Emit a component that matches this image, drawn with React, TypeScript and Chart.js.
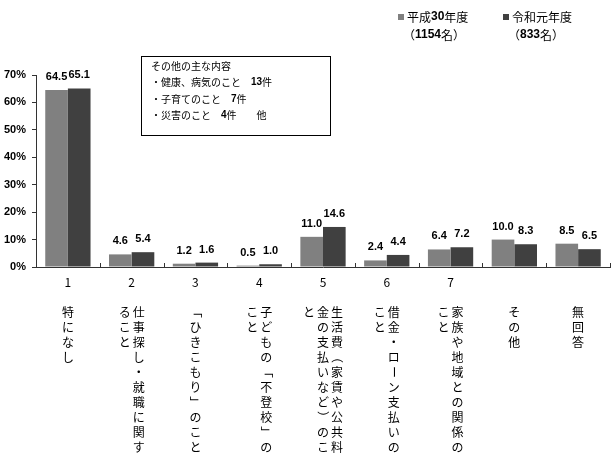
import { useEffect, useRef } from "react";
import { Chart, registerables } from "chart.js";

// category numbers shown under the axis, and the vertical label columns (right to left)
const categoryNumbers = ["1", "2", "3", "4", "5", "6", "7", "", ""];
const categoryColumns: string[][] = [
  ["特になし"],
  ["仕事探し・就職に関す", "ること"],
  ["「ひきこもり」のこと"],
  ["子どもの「不登校」の", "こと"],
  ["生活費（家賃や公共料", "金の支払いなど）のこ", "と"],
  ["借金・ローン支払いの", "こと"],
  ["家族や地域との関係の", "こと"],
  ["その他"],
  ["無回答"],
];

const seriesNames = ["平成30年度", "令和元年度"];
const seriesCounts = ["（1154名）", "（833名）"];
const seriesColors = ["#808080", "#404040"];
const heisei30 = [64.5, 4.6, 1.2, 0.5, 11.0, 2.4, 6.4, 10.0, 8.5];
const reiwa1 = [65.1, 5.4, 1.6, 1.0, 14.6, 4.4, 7.2, 8.3, 6.5];

const yTicks = [0, 10, 20, 30, 40, 50, 60, 70];

const noteLines = [
  "その他の主な内容",
  "・健康、病気のこと　13件",
  "・子育てのこと　7件",
  "・災害のこと　4件　　他",
];

const JP = "'Noto Sans CJK JP', 'Noto Sans', sans-serif";
const ROTATED = "「」（）ー";

// draw a string where runs of digits are bold
const drawMixed = (
  ctx: CanvasRenderingContext2D,
  text: string,
  x: number,
  y: number,
  size: number
) => {
  const parts = text.split(/(\d+)/).filter((p) => p.length);
  let cx = x;
  parts.forEach((p) => {
    const bold = /^\d+$/.test(p);
    ctx.font = bold
      ? `bold ${size}px 'Liberation Sans', Arial, sans-serif`
      : `${size}px ${JP}`;
    ctx.fillText(p, cx, y);
    cx += ctx.measureText(p).width;
  });
};

const decorPlugin = {
  id: "decor",
  afterDraw(chart: any) {
    const ctx: CanvasRenderingContext2D = chart.ctx;
    const xs = chart.scales.x;
    const area = chart.chartArea;
    ctx.save();
    ctx.fillStyle = "#000";

    // inside tick marks between categories
    const half = (xs.getPixelForValue(1) - xs.getPixelForValue(0)) / 2;
    ctx.strokeStyle = "#333";
    ctx.lineWidth = 1;
    for (let i = 0; i < categoryNumbers.length; i++) {
      const bx = Math.round(xs.getPixelForValue(i) + half) + 0.5;
      ctx.beginPath();
      ctx.moveTo(bx, area.bottom);
      ctx.lineTo(bx, area.bottom - 4);
      ctx.stroke();
    }

    // category numbers
    ctx.textAlign = "center";
    ctx.textBaseline = "middle";
    ctx.font = `12px ${JP}`;
    categoryNumbers.forEach((n, i) => {
      ctx.fillText(n, xs.getPixelForValue(i), area.bottom + 15);
    });

    // vertical labels
    categoryColumns.forEach((cols, i) => {
      const cx = xs.getPixelForValue(i);
      cols.forEach((col, c) => {
        const x = cx + ((cols.length - 1) / 2) * 14 - c * 14;
        Array.from(col).forEach((ch, r) => {
          const y = area.bottom + 45 + r * 15;
          if (ROTATED.includes(ch)) {
            ctx.save();
            ctx.translate(x, y);
            ctx.rotate(Math.PI / 2);
            ctx.fillText(ch, 0, 0);
            ctx.restore();
          } else {
            ctx.fillText(ch, x, y);
          }
        });
      });
    });

    // legend
    ctx.textAlign = "left";
    const legendX = [398, 503];
    seriesNames.forEach((name, i) => {
      ctx.fillStyle = seriesColors[i];
      ctx.fillRect(legendX[i], 14, 6, 6);
      ctx.fillStyle = "#000";
      drawMixed(ctx, name, legendX[i] + 9, 17, 12);
      drawMixed(ctx, seriesCounts[i], legendX[i] + 5, 35, 12);
    });

    // note box
    ctx.strokeStyle = "#000";
    ctx.strokeRect(141.5, 56.5, 189, 79);
    noteLines.forEach((line, i) => {
      drawMixed(ctx, line, 151, 66 + i * 16.5, 10);
    });

    ctx.restore();
  },
  afterDatasetsDraw(chart: any) {
    const ctx: CanvasRenderingContext2D = chart.ctx;
    ctx.save();
    ctx.fillStyle = "#000";
    ctx.textAlign = "center";
    ctx.textBaseline = "middle";
    ctx.font = "bold 11px 'Liberation Sans', Arial, sans-serif";
    chart.data.datasets.forEach((ds: any, di: number) => {
      chart.getDatasetMeta(di).data.forEach((bar: any, i: number) => {
        ctx.fillText(ds.data[i].toFixed(1), bar.x, bar.y - 13);
      });
    });
    ctx.restore();
  },
};

const BarChart = () => {
  const canvasRef = useRef<HTMLCanvasElement>(null);

  useEffect(() => {
    Chart.register(...registerables);
    const ctx = canvasRef.current!.getContext("2d")!;

    const chart = new Chart(ctx, {
      type: "bar",
      data: {
        labels: categoryColumns.map((c) => c.join("")),
        datasets: [
          {
            label: seriesNames[0],
            data: heisei30,
            backgroundColor: seriesColors[0],
          },
          {
            label: seriesNames[1],
            data: reiwa1,
            backgroundColor: seriesColors[1],
          },
        ],
      },
      options: {
        responsive: false,
        animation: false,
        layout: { padding: { top: 75, right: 3, left: 0, bottom: 0 } },
        datasets: {
          bar: { categoryPercentage: 0.71, barPercentage: 1 },
        },
        plugins: {
          legend: { display: false },
          tooltip: { enabled: false },
        },
        scales: {
          x: {
            grid: { display: false },
            border: { display: true, color: "#333", width: 1 },
            ticks: { display: false },
            afterFit: (s: any) => {
              s.height = 198;
            },
          },
          y: {
            min: 0,
            max: 70,
            afterBuildTicks: (s: any) => {
              s.ticks = yTicks.map((v) => ({ value: v }));
            },
            grid: {
              drawOnChartArea: false,
              tickLength: 4,
              color: "#333",
            },
            border: { display: true, color: "#333", width: 1 },
            ticks: {
              color: "#000",
              padding: 6,
              font: {
                family: "'Liberation Sans', Arial, sans-serif",
                size: 11,
                weight: "bold",
              },
              callback: (v: any) => `${v}%`,
            },
            afterFit: (s: any) => {
              s.width = 36;
            },
          },
        },
      },
      plugins: [decorPlugin],
    } as any);

    return () => {
      chart.destroy();
    };
  }, []);

  return <canvas ref={canvasRef} width={613} height={465} />;
};

export default function App() {
  return (
    <div
      style={{
        position: "absolute",
        left: 0,
        top: 0,
        width: 613,
        height: 465,
        background: "#fff",
      }}
    >
      <BarChart />
    </div>
  );
}
